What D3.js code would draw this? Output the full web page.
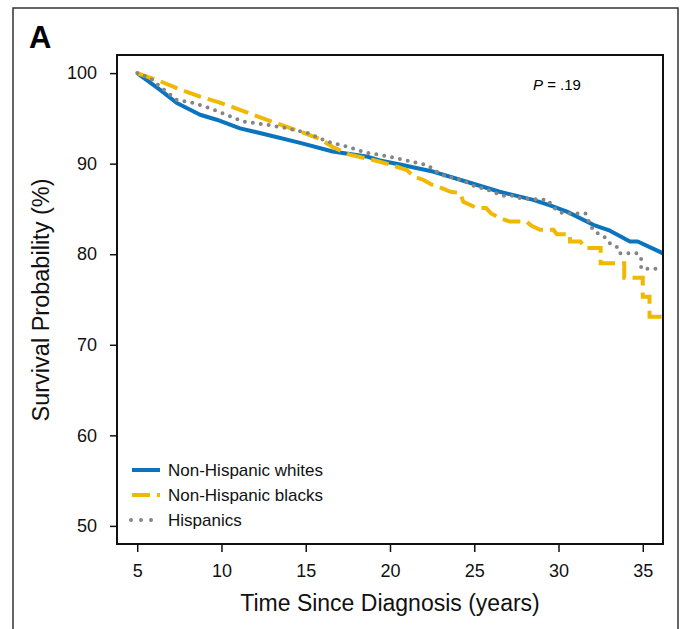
<!DOCTYPE html>
<html>
<head>
<meta charset="utf-8">
<title>Survival by ethnicity</title>
<script src="https://cdn.jsdelivr.net/npm/d3@7"></script>
<style>
    body { margin: 0; background: white; }
    svg { font-family: "Liberation Sans", Arial, sans-serif; }
    .frame { fill: none; stroke: #333; stroke-width: 1.5px; }
    .plotbox { fill: none; stroke: #111; stroke-width: 2px; }
    .axis text { font-size: 18px; fill: #111; }
    .axis line { stroke: #111; stroke-width: 1.5px; }
    .axis path { display: none; }
    .title { font-size: 23px; fill: #111; text-anchor: middle; }
    .curve { fill: none; stroke-width: 4px; }
    .legend text { font-size: 17px; fill: #111; }
</style>
</head>
<body>
<script>
    // years since diagnosis / survival %
    var whitesT = [5, 6.36, 7.35, 8.73, 9.72, 11.1, 12.7, 14.67, 16.6, 18.6, 19.4, 20.6, 22.6, 24.55, 26.5, 28.5, 29.5, 30.5, 32.06, 33.05, 34.24, 34.7, 36.2];
    var whitesV = [100, 98.15, 96.7, 95.4, 94.85, 93.9, 93.2, 92.3, 91.35, 90.8, 90.35, 89.9, 89.1, 88.0, 86.9, 86.0, 85.4, 84.7, 83.25, 82.6, 81.4, 81.4, 80.1];

    var blacksT = [5, 6.36, 7.55, 8.73, 9.9, 11.1, 12.3, 13.5, 14.67, 15.85, 16.65, 17.6, 19.0, 20.0, 21.0, 21.4, 22.0, 22.4, 23.07, 23.6, 24.16, 24.35, 25.15, 25.7, 26.0, 26.5, 27.1, 28.1, 28.4, 28.9, 29.7, 29.9, 30.68, 30.68, 31.3, 31.6, 32.5, 32.5, 33.9, 33.9, 35.0, 35.0, 35.4, 35.4, 36.2];
    var blacksV = [100, 99.1, 98.2, 97.4, 96.75, 95.95, 95.1, 94.3, 93.55, 92.7, 91.8, 91.0, 90.4, 89.9, 89.3, 88.6, 88.2, 87.75, 87.3, 86.9, 86.75, 85.8, 85.1, 85.1, 84.5, 84.0, 83.6, 83.6, 83.15, 82.7, 82.7, 82.2, 82.2, 81.4, 81.4, 80.7, 80.7, 79.0, 79.0, 77.4, 77.4, 75.3, 75.3, 73.1, 73.1];

    var hispT = [5, 5.77, 6.46, 7.35, 8.34, 9.33, 10.3, 11.3, 12.7, 13.9, 15.1, 16.25, 17.4, 18.6, 19.4, 20.9, 21.8, 22.3, 22.6, 23.0, 23.4, 23.85, 24.25, 24.65, 25.05, 25.9, 26.3, 26.75, 27.3, 27.7, 28.3, 29.4, 29.6, 29.9, 30.25, 31.6, 31.87, 32.07, 32.46, 32.8, 33.05, 33.45, 33.6, 34.7, 34.9, 34.9, 36.2];
    var hispV = [100, 99.45, 98.35, 97.05, 96.7, 96.1, 95.4, 94.65, 94.3, 93.9, 93.4, 92.45, 91.9, 91.2, 90.98, 90.4, 90.0, 89.8, 89.25, 88.9, 88.5, 88.5, 88.15, 87.85, 87.5, 87.05, 86.75, 86.45, 86.45, 86.2, 86.1, 86.0, 85.3, 84.9, 84.5, 84.5, 83.3, 82.6, 82.15, 81.8, 81.2, 80.85, 80.1, 80.1, 79.5, 78.4, 78.4];

    var seriesNames = ["Non-Hispanic whites", "Non-Hispanic blacks", "Hispanics"];
    var seriesColors = ["#0a74bf", "#f0b900", "#858585"];
    var seriesDash = [null, "18,7", "0,8"];
    var xTicks = [5, 10, 15, 20, 25, 30, 35];
    var yTicks = [50, 60, 70, 80, 90, 100];
    var pLabel = " = .19";

    var width = 684, height = 629;
    var plotL = 117, plotR = 663, plotT = 55, plotB = 544;

    var svg = d3.select("body").append("svg")
        .attr("width", width)
        .attr("height", height);

    svg.append("rect").attr("class", "frame")
        .attr("x", 13).attr("y", 8)
        .attr("width", 665).attr("height", 640);

    svg.append("text")
        .attr("x", 29).attr("y", 48)
        .style("font-size", "31px").style("font-weight", "bold")
        .text("A");

    var x = d3.scaleLinear().domain([3.8, 36.2]).range([plotL, plotR]);
    var y = d3.scaleLinear().domain([48, 102]).range([plotB, plotT]);

    svg.append("g").attr("class", "axis")
        .attr("transform", "translate(0," + plotB + ")")
        .call(d3.axisBottom(x).tickValues(xTicks).tickSize(8).tickPadding(12));

    svg.append("g").attr("class", "axis")
        .attr("transform", "translate(" + plotL + ",0)")
        .call(d3.axisLeft(y).tickValues(yTicks).tickSize(7).tickPadding(13));

    svg.append("defs").append("clipPath").attr("id", "clip")
      .append("rect")
        .attr("x", plotL).attr("y", plotT)
        .attr("width", plotR - plotL).attr("height", plotB - plotT);

    var line = d3.line()
        .x(function (d) { return x(d[0]); })
        .y(function (d) { return y(d[1]); });

    var series = [
        d3.zip(whitesT, whitesV),
        d3.zip(blacksT, blacksV),
        d3.zip(hispT, hispV)
    ];

    var curves = svg.append("g").attr("clip-path", "url(#clip)");
    series.forEach(function (s, i) {
        curves.append("path")
            .attr("class", "curve")
            .attr("d", line(s))
            .attr("stroke", seriesColors[i])
            .attr("stroke-dasharray", seriesDash[i])
            .attr("stroke-linecap", i == 2 ? "round" : "butt")
            .attr("stroke-linejoin", i == 1 ? "miter" : "round");
    });

    svg.append("rect").attr("class", "plotbox")
        .attr("x", plotL).attr("y", plotT)
        .attr("width", plotR - plotL).attr("height", plotB - plotT);

    var pText = svg.append("text")
        .attr("x", 533).attr("y", 90)
        .style("font-size", "15px");
    pText.append("tspan").style("font-style", "italic").text("P");
    pText.append("tspan").text(pLabel);

    var legend = svg.append("g").attr("class", "legend");
    seriesNames.forEach(function (name, i) {
        var ly = 470 + i * 25;
        legend.append("line")
            .attr("x1", 132).attr("x2", 160)
            .attr("y1", ly).attr("y2", ly)
            .attr("stroke", seriesColors[i])
            .attr("stroke-width", 4)
            .attr("stroke-dasharray", i == 2 ? "0,10" : seriesDash[i])
            .attr("stroke-linecap", i == 2 ? "round" : "butt")
            .attr("transform", i == 2 ? "translate(-1,0)" : null);
        legend.append("text")
            .attr("x", 168).attr("y", ly + 6)
            .text(name);
    });

    svg.append("text").attr("class", "title")
        .attr("x", 390).attr("y", 611)
        .text("Time Since Diagnosis (years)");

    svg.append("text").attr("class", "title")
        .attr("transform", "translate(49,300) rotate(-90)")
        .style("font-size", "23.5px")
        .text("Survival Probability (%)");
</script>
</body>
</html>
